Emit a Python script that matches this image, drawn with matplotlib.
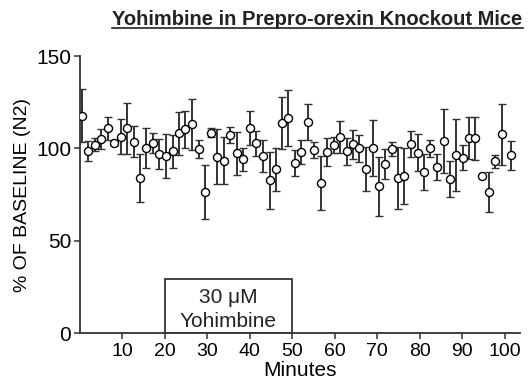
import matplotlib
matplotlib.use("Agg")
import matplotlib.pyplot as plt
from matplotlib.patches import Rectangle
from matplotlib.lines import Line2D

plt.rcParams['font.family'] = ['Liberation Sans', 'DejaVu Sans']

minutes = [0.5, 2.1, 3.6, 5.1, 6.6, 8.1, 9.7, 11.2, 12.7, 14.2, 15.7, 17.3, 18.8, 20.4,
           21.9, 23.4, 24.9, 26.5, 28.0, 29.4, 30.9, 32.3, 33.9, 35.5, 37.0, 38.5, 40.0,
           41.6, 43.1, 44.7, 46.2, 47.6, 49.1, 50.7, 52.2, 53.7, 55.2, 56.8, 58.2, 59.8,
           61.3, 62.8, 64.4, 65.8, 67.3, 68.9, 70.5, 71.9, 73.5, 74.9, 76.4, 78.0, 79.6,
           81.1, 82.5, 84.0, 85.6, 87.1, 88.6, 90.2, 91.6, 93.1, 94.7, 96.2, 97.8, 99.3, 101.4]
pct_baseline = [117.7, 98.7, 102.0, 104.9, 110.8, 102.7, 106.3, 110.8, 103.6, 84.1, 100.2,
                102.9, 96.9, 95.8, 98.5, 108.1, 110.3, 113.0, 99.6, 76.3, 108.4, 95.5, 93.3,
                107.2, 97.3, 94.0, 111.2, 102.7, 95.8, 82.8, 88.6, 113.9, 116.6, 92.0, 97.8,
                114.4, 99.1, 81.2, 98.0, 101.8, 106.0, 98.4, 102.2, 100.0, 88.8, 100.3, 79.6,
                91.5, 99.5, 83.9, 85.0, 102.2, 97.6, 87.0, 100.0, 89.7, 104.0, 83.4, 96.4,
                94.9, 105.4, 105.4, 85.2, 76.3, 93.0, 107.6, 96.2]
sem = [14.5, 5.4, 3.6, 5.4, 6.3, 1.0, 9.4, 13.7, 8.5, 12.9, 11.0, 5.3, 8.0, 12.0, 9.0, 11.7,
       10.0, 13.8, 5.0, 14.7, 2.5, 15.0, 12.7, 4.5, 11.5, 6.0, 9.3, 6.8, 8.8, 15.5, 11.6, 14.0,
       15.2, 7.2, 6.5, 9.6, 4.5, 14.8, 7.5, 4.5, 8.7, 7.2, 8.0, 7.5, 12.0, 15.0, 16.0, 8.2,
       3.8, 17.0, 15.0, 7.0, 10.0, 9.7, 4.5, 7.0, 17.5, 9.7, 19.7, 6.7, 11.4, 11.7, 0.0, 11.0,
       3.6, 16.7, 8.0]

xticks = [10, 20, 30, 40, 50, 60, 70, 80, 90, 100]
yticks = [0, 50, 100, 150]
drug_start, drug_end, drug_box_top = 20, 50, 29
title = "Yohimbine in Prepro-orexin Knockout Mice"

dark = '#333333'
fig = plt.figure(figsize=(5.28, 3.84), dpi=100)
ax = fig.add_axes([0.1506, 0.1328, 0.8344, 0.7212])

ax.errorbar(minutes, pct_baseline, yerr=sem, fmt='o', color=dark, ecolor=dark,
            elinewidth=1.4, capsize=2.6, capthick=1.4, markersize=5.8,
            markerfacecolor='white', markeredgecolor='black', markeredgewidth=1.0,
            zorder=3)

ax.add_patch(Rectangle((drug_start, 0), drug_end - drug_start, drug_box_top,
                       facecolor='white', edgecolor='#222222', lw=1.2, zorder=2))
ax.text((drug_start + drug_end) / 2, 19.5, "30 μM", ha='center', va='center',
        fontsize=15, color='#222222')
ax.text((drug_start + drug_end) / 2, 6.5, "Yohimbine", ha='center', va='center',
        fontsize=15, color='#222222')

ax.set_xlim(0, 103.6)
ax.set_ylim(0, 150)
ax.set_xticks(xticks)
ax.set_yticks(yticks)
ax.tick_params(axis='x', labelsize=14, length=4, width=1.1, color=dark, pad=3)
ax.tick_params(axis='y', labelsize=15, length=4, width=1.1, color=dark, pad=2)
for s in ['top', 'right']:
    ax.spines[s].set_visible(False)
for s in ['left', 'bottom']:
    ax.spines[s].set_color(dark)
    ax.spines[s].set_linewidth(1.3)
ax.set_xlabel("Minutes", fontsize=15, labelpad=1)
ax.set_ylabel("% OF BASELINE (N2)", fontsize=14, labelpad=4)

t = fig.text(0.99, 0.935, title, ha='right', va='baseline', fontsize=14.5,
             fontweight='bold', color='#222222')
fig.canvas.draw()
bb = t.get_window_extent(renderer=fig.canvas.get_renderer())
W, H = fig.bbox.width, fig.bbox.height
uy = (bb.y0 + 1.0) / H
fig.add_artist(Line2D([bb.x0 / W, bb.x1 / W], [uy, uy], transform=fig.transFigure,
                      color='#222222', lw=1.2))

fig.savefig("out.png", dpi=100)
